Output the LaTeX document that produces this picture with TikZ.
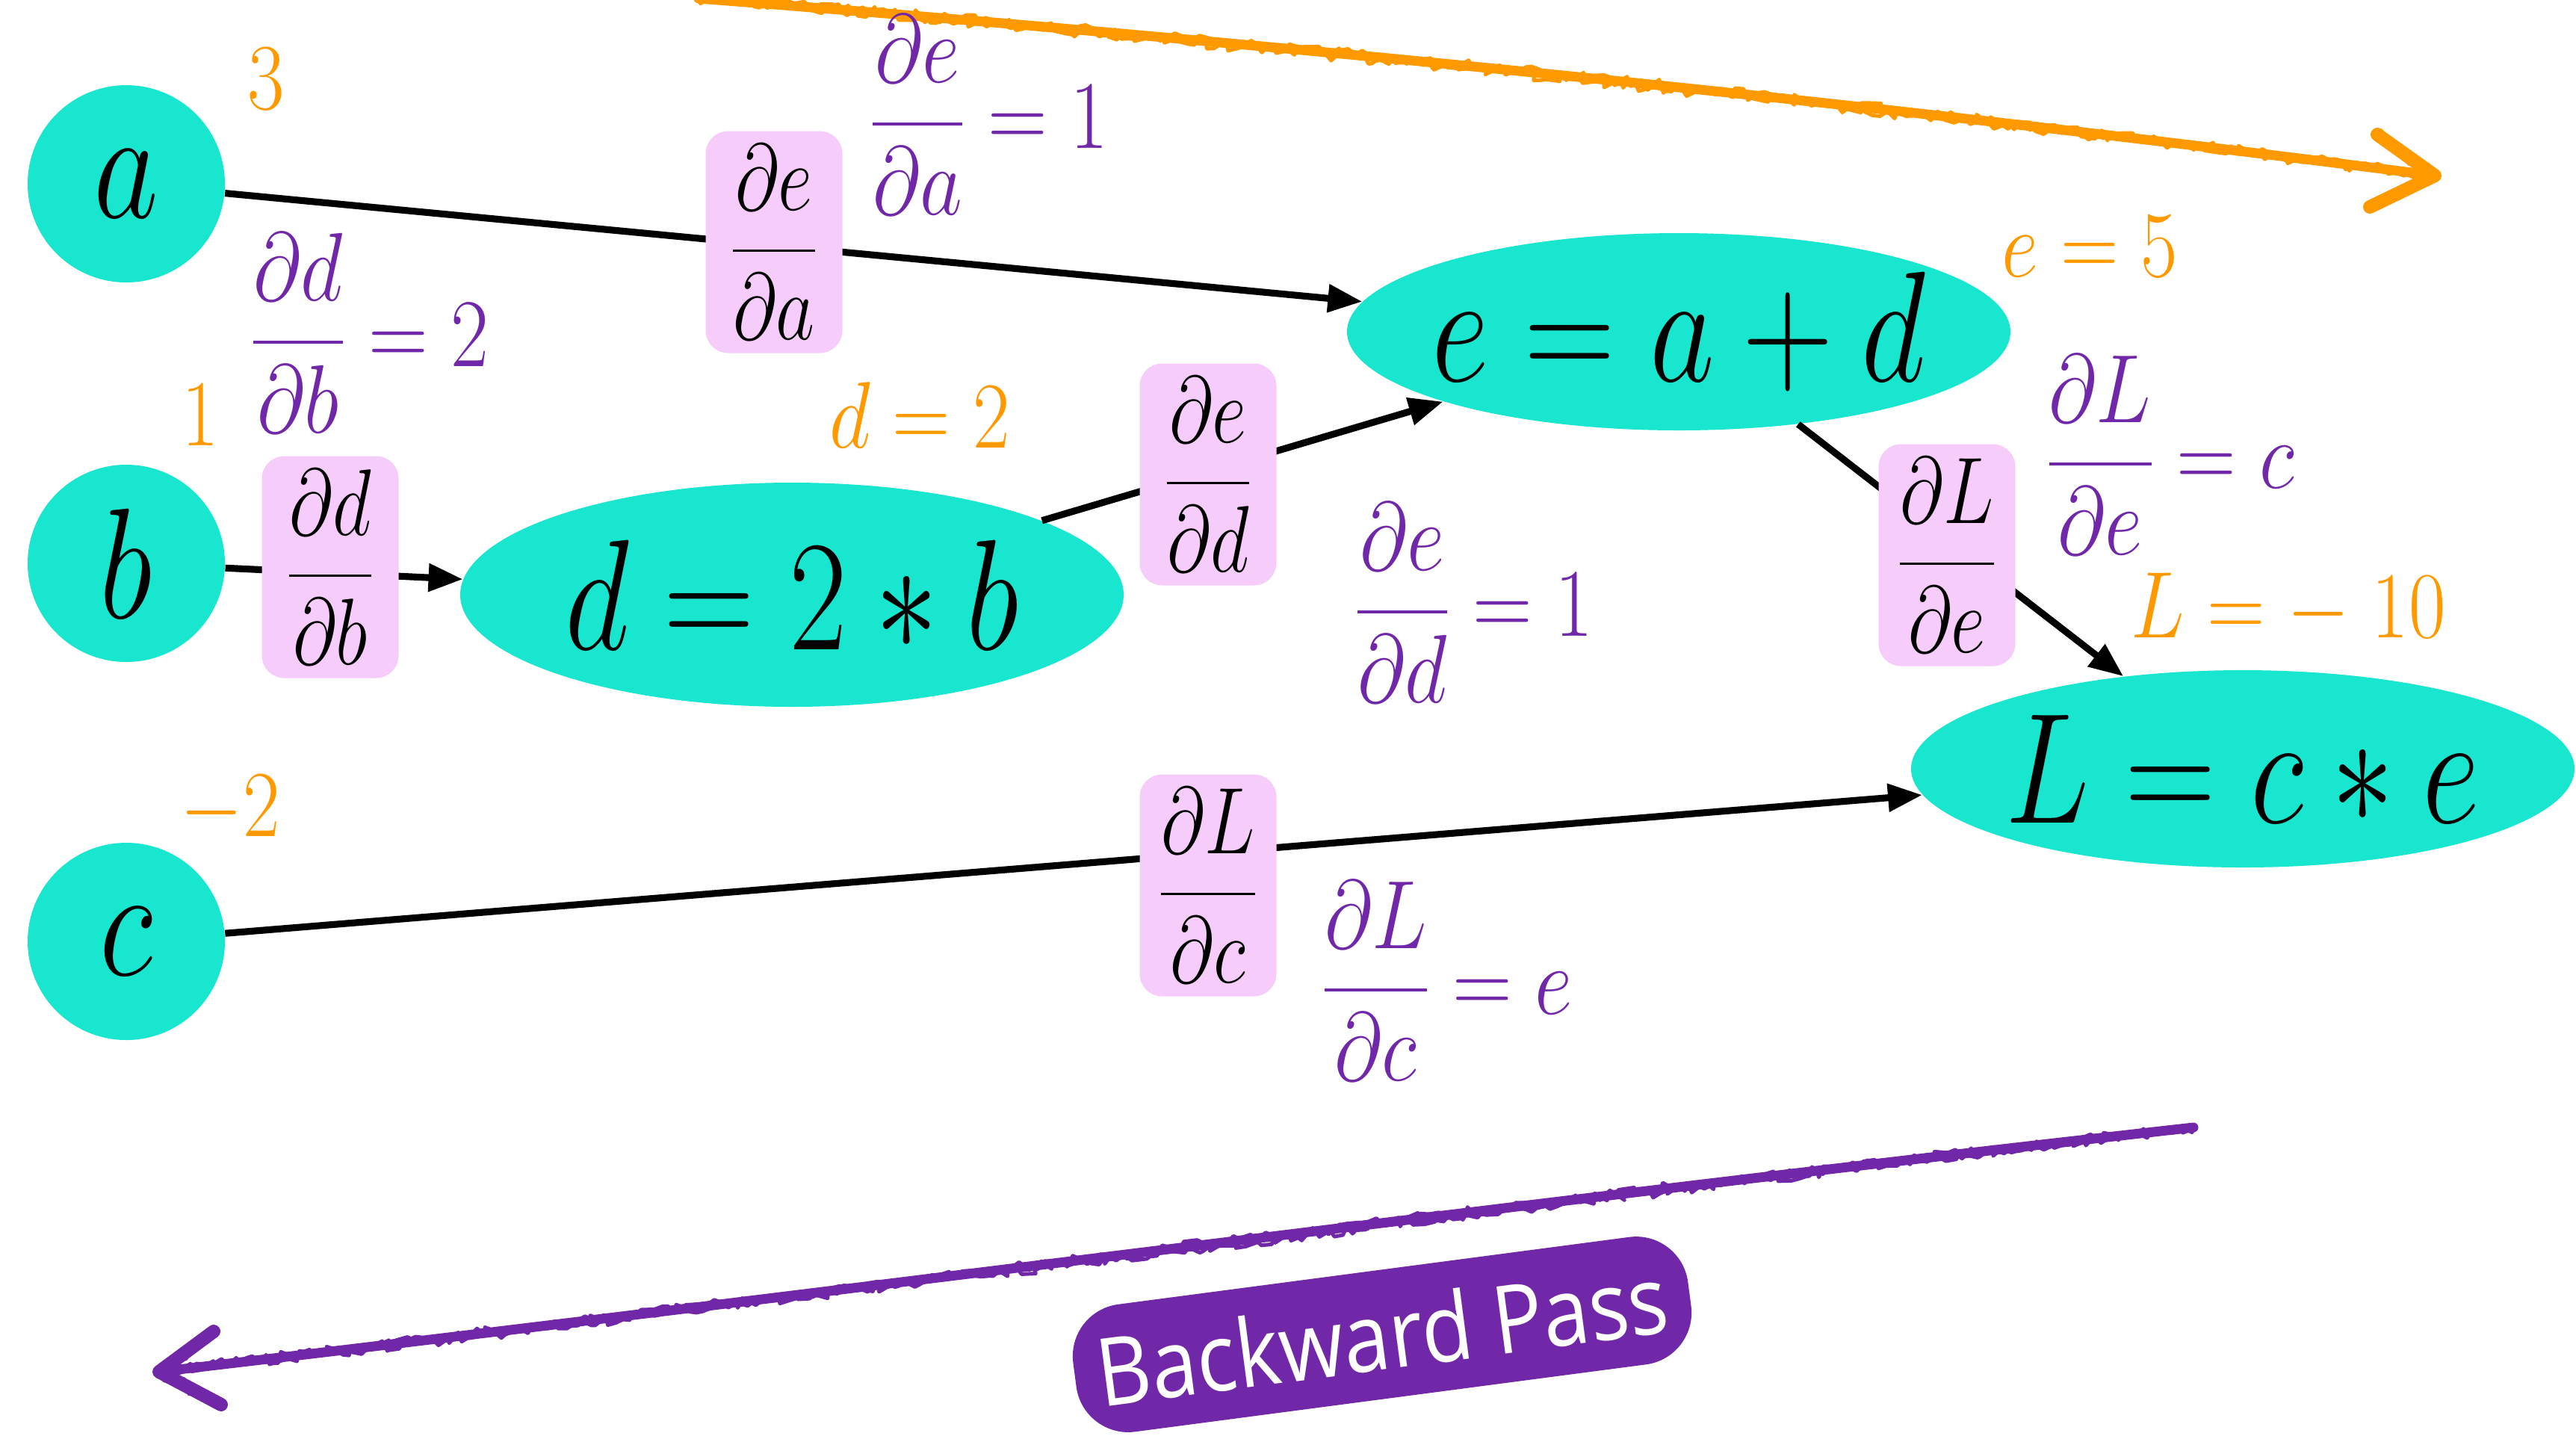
\RequirePackage{fix-cm}
\documentclass[tikz,border=0pt]{standalone}
\usepackage{amsmath}
\usepackage{graphicx}
\usepackage{fontspec}
\newfontfamily\bpfont{Open Sans}
\usetikzlibrary{shapes.geometric,arrows.meta,decorations.pathmorphing}
\definecolor{tealc}{HTML}{18E6CF}
\definecolor{pinkc}{HTML}{F5CCFA}
\definecolor{orngc}{HTML}{FF9900}
\definecolor{purpc}{HTML}{7028A8}
\newcommand\sqz[2]{\scalebox{#1}[1]{#2}}
\begin{document}
\begin{tikzpicture}[
  every node/.style={inner sep=0pt},
  circ/.style={circle, fill=tealc, minimum size=2.64cm, font=\fontsize{60}{72}\selectfont},
  ell/.style={ellipse, fill=tealc, minimum width=8.88cm, minimum height=2.64cm},
  big/.style={font=\fontsize{60}{72}\selectfont},
  pinkbox/.style={fill=pinkc, rounded corners=0.3cm, minimum width=1.83cm, minimum height=2.97cm, font=\fontsize{36}{43}\selectfont},
  grad/.style={text=purpc, font=\fontsize{37}{44}\selectfont},
  val/.style={text=orngc, font=\fontsize{36}{43}\selectfont},
  edge/.style={line width=2.6pt, -{Triangle[length=0.46cm, width=0.36cm]}},
  sketch/.style={line width=0.05cm, line cap=round, line join=round, decorate, decoration={random steps, segment length=2.5pt, amplitude=2.2pt}},
  bpbox/.style={fill=purpc, rounded corners=0.7cm, minimum width=8.3cm, minimum height=1.72cm, text=white, font=\bpfont\fontsize{36}{43}\selectfont},
]
\useasboundingbox (0,0) rectangle (34.48,-19.21);
\pgfmathsetseed{7}

% sketchy arrows
\coordinate (f1) at (9.35,0.02);
\coordinate (f2) at (32.59,-2.35);
\coordinate (fa1) at (31.82,-1.80);
\coordinate (fa2) at (31.72,-2.77);
\draw[orngc, line width=0.13cm, line cap=round] (f1) .. controls (17.1,-0.58) and (24.84,-1.35) .. (f2);
\draw[orngc, sketch] (f1) .. controls (17.1,-0.58) and (24.84,-1.35) .. (f2);
\draw[orngc, sketch] (f1) .. controls (17.1,-0.62) and (24.84,-1.39) .. (f2);
\draw[orngc, line width=0.18cm, line cap=round, line join=round] (fa1) -- (f2) -- (fa2);
\draw[orngc, sketch] (fa1) -- (f2) -- (fa2);

\coordinate (g1) at (29.36,-15.09);
\coordinate (g2) at (2.13,-18.36);
\coordinate (ga1) at (2.86,-17.82);
\coordinate (ga2) at (2.96,-18.80);
\draw[purpc, line width=0.13cm, line cap=round] (g1) .. controls (20.3,-16.1) and (11.2,-17.3) .. (g2);
\draw[purpc, sketch] (g1) .. controls (20.3,-16.1) and (11.2,-17.3) .. (g2);
\draw[purpc, sketch] (g1) .. controls (20.3,-16.14) and (11.2,-17.34) .. (g2);
\draw[purpc, line width=0.18cm, line cap=round, line join=round] (ga1) -- (g2) -- (ga2);
\draw[purpc, sketch] (ga1) -- (g2) -- (ga2);

% main nodes
\node[circ] (a) at (1.69,-2.46) {\sqz{0.8}{$a$}};
\node[circ] (b) at (1.69,-7.54) {\sqz{0.8}{$b$}};
\node[circ] (c) at (1.69,-12.60) {\sqz{0.8}{$c$}};
\node[ell, minimum height=3.0cm] (d) at (10.60,-7.96) {};
\node[ell] (e) at (22.47,-4.44) {};
\node[ell] (L) at (30.02,-10.29) {};
\node[big] (dt) at (d) {\sqz{0.8}{$d=2*b$}};
\node[big] (et) at (e) {\sqz{0.8}{$e=a+d$}};
\node[big] (Lt) at (L) {\sqz{0.8}{$L=c*e$}};

% edges
\draw[edge] (a) -- (e);
\draw[edge] (b) -- (d);
\draw[edge] (d) -- (e);
\draw[edge] (e) -- (L);
\draw[edge] (c) -- (L);

% pink local-gradient boxes
\node[pinkbox] (pa) at (10.36,-3.24) {\sqz{0.8}{$\dfrac{\partial e}{\partial a}$}};
\node[pinkbox] (pb) at (4.42,-7.59) {\sqz{0.8}{$\dfrac{\partial d}{\partial b}$}};
\node[pinkbox] (pd) at (16.17,-6.35) {\sqz{0.8}{$\dfrac{\partial e}{\partial d}$}};
\node[pinkbox] (pLe) at (26.06,-7.43) {\sqz{0.8}{$\dfrac{\partial L}{\partial e}$}};
\node[pinkbox] (pLc) at (16.17,-11.85) {\sqz{0.8}{$\dfrac{\partial L}{\partial c}$}};

% purple gradient values
\node[grad] (gea) at (13.24,-1.54) {\sqz{0.85}{$\dfrac{\partial e}{\partial a}=1$}};
\node[grad] (gdb) at (4.95,-4.46) {\sqz{0.85}{$\dfrac{\partial d}{\partial b}=2$}};
\node[grad] (ged) at (19.73,-8.07) {\sqz{0.85}{$\dfrac{\partial e}{\partial d}=1$}};
\node[grad] (gLe) at (29.05,-6.09) {\sqz{0.85}{$\dfrac{\partial L}{\partial e}=c$}};
\node[grad] (gLc) at (19.37,-13.13) {\sqz{0.85}{$\dfrac{\partial L}{\partial c}=e$}};

% orange forward values
\node[val] (v3) at (3.56,-1.06) {\sqz{0.85}{$3$}};
\node[val] (v1) at (2.68,-5.56) {\sqz{0.85}{$1$}};
\node[val] (vm2) at (3.08,-10.84) {\sqz{0.85}{$-2$}};
\node[val] (vd) at (12.31,-5.56) {\sqz{0.85}{$d=2$}};
\node[val] (ve) at (27.97,-3.30) {\sqz{0.85}{$e=5$}};
\node[val] (vL) at (30.63,-8.16) {\sqz{0.85}{$L=-\;10$}};

% backward pass label
\node[bpbox, rotate=7.5] (bp) at (18.50,-17.86) {\sqz{0.88}{Backward Pass}};
\end{tikzpicture}
\end{document}
